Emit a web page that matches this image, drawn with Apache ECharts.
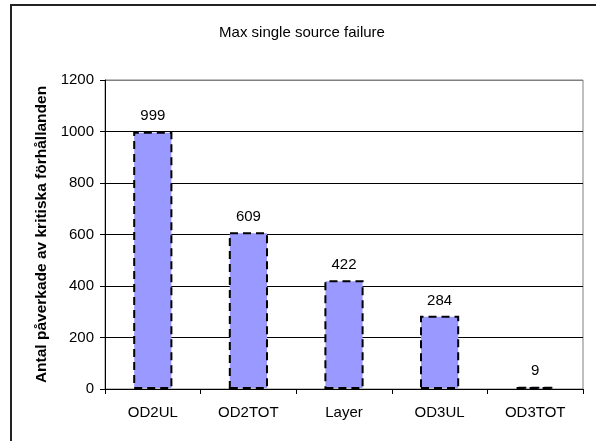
<!DOCTYPE html>
<html>
<head>
<meta charset="utf-8">
<script src="https://cdn.jsdelivr.net/npm/echarts@6/dist/echarts.min.js"></script>
<style>
html,body{margin:0;padding:0;background:#fff;}
#chart{width:596px;height:441px;}
</style>
</head>
<body>
<div id="chart"></div>
<script>
// Affected critical relations per source
const categories = ['OD2UL', 'OD2TOT', 'Layer', 'OD3UL', 'OD3TOT'];
const values = [999, 609, 422, 284, 9];
const yTicks = [0, 200, 400, 600, 800, 1000, 1200];

const chart = echarts.init(document.getElementById('chart'), null, { renderer: 'canvas' });
const font = '"Liberation Sans", Arial, sans-serif';

chart.setOption({
  animation: false,
  backgroundColor: '#fff',
  title: {
    text: 'Max single source failure',
    left: 297,
    textAlign: 'center',
    top: 20,
    textStyle: { fontFamily: font, fontSize: 15, fontWeight: 'normal', color: '#000' }
  },
  graphic: [{
    type: 'rect',
    shape: { x: 11, y: 5, width: 620, height: 470 },
    style: { fill: 'none', stroke: '#222', lineWidth: 2 },
    silent: true
  }],
  grid: {
    left: 105, right: 13, top: 80, bottom: 52,
    show: true, borderColor: '#808080', borderWidth: 1
  },
  xAxis: {
    type: 'category',
    data: categories,
    axisLine: { lineStyle: { color: '#000', width: 1 } },
    axisTick: { show: true, length: 5, lineStyle: { color: '#000' } },
    axisLabel: { fontFamily: font, fontSize: 15, color: '#000', margin: 16 }
  },
  yAxis: {
    type: 'value',
    min: yTicks[0],
    max: yTicks[yTicks.length - 1],
    interval: 200,
    name: 'Antal påverkade av kritiska förhållanden',
    nameLocation: 'middle',
    nameGap: 54,
    nameTextStyle: { fontFamily: font, fontSize: 15.5, fontWeight: 'bold', color: '#000' },
    axisLine: { show: true, lineStyle: { color: '#000', width: 1 } },
    axisTick: { show: true, length: 5, lineStyle: { color: '#000' } },
    axisLabel: {
      fontFamily: font, fontSize: 15, color: '#000', margin: 11,
      formatter: v => String(v)
    },
    splitLine: {
      show: true,
      lineStyle: { color: ['#000', '#000', '#000', '#000', '#000', '#000', '#808080'], width: 1 }
    }
  },
  series: [{
    type: 'bar',
    data: values,
    barCategoryGap: '59%',
    itemStyle: {
      color: '#9999FF',
      borderColor: '#000',
      borderWidth: 2,
      borderType: [8, 5]
    },
    label: {
      show: true,
      position: 'top',
      distance: 8,
      fontFamily: font,
      fontSize: 15,
      color: '#000'
    }
  }]
});
</script>
</body>
</html>
